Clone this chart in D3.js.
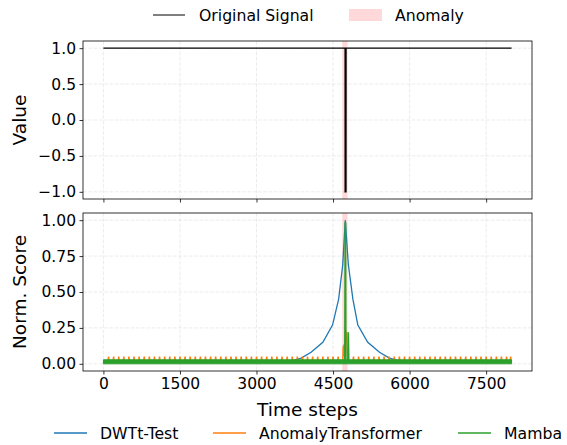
<!DOCTYPE html>
<html><head><meta charset="utf-8">
<script src="https://cdn.jsdelivr.net/npm/d3@7"></script>
<style>
body{margin:0;background:#fff;}
text{font-family:"DejaVu Sans",sans-serif;fill:#000;}
</style></head>
<body><svg id="c" width="567" height="445"></svg>
<script>
// ---- data ----
const xTicks = [0, 1500, 3000, 4500, 6000, 7500];
const yTopTicks = [-1.0, -0.5, 0.0, 0.5, 1.0];
const yBotTicks = [0.0, 0.25, 0.5, 0.75, 1.0];
const anomalySpan = [4680, 4785];
// original signal (breakpoints)
const signalT = [0, 4735, 4736, 4755, 4756, 7999];
const signalV = [1, 1, -1, -1, 1, 1];
// DWTt-Test score
const dwtT = [0, 3500, 3700, 3875, 4070, 4300, 4490, 4610, 4690, 4740, 4800, 4889, 4986, 5180, 5410, 5605, 5800, 6000, 7999];
const dwtV = [0.01, 0.01, 0.02, 0.04, 0.08, 0.15, 0.27, 0.45, 0.69, 1.0, 0.69, 0.45, 0.27, 0.15, 0.08, 0.04, 0.02, 0.01, 0.01];
// AnomalyTransformer: periodic small spikes + anomaly response
const atSpikeT = [100,200,300,400,500,600,700,800,900,1000,1100,1200,1300,1400,1500,1600,1700,1800,1900,2000,2100,2200,2300,2400,2500,2600,2700,2800,2900,3000,3100,3200,3300,3400,3500,3600,3700,3800,3900,4000,4100,4200,4300,4400,4500,4600,4700,4800,4900,5000,5100,5200,5300,5400,5500,5600,5700,5800,5900,6000,6100,6200,6300,6400,6500,6600,6700,6800,6900,7000,7100,7200,7300,7400,7500,7600,7700,7800,7900,7980];
const atSpikeV = 0.05;
const atBase = 0.012;
const atAnomT = [4690, 4700, 4715, 4725, 4740, 4750, 4760, 4770, 4780, 4800];
const atAnomV = [0.012, 0.12, 0.13, 0.05, 0.15, 0.23, 0.15, 0.22, 0.08, 0.012];
// Mamba: fast oscillation envelope + anomaly spike
const mambaBandT = [0, 7999];
const mambaBandLo = [0.0, 0.0];
const mambaBandHi = [0.028, 0.028];
const mambaT = [4700, 4730, 4738, 4745, 4752, 4790, 4800, 4810, 4830];
const mambaV = [0.012, 0.012, 0.98, 0.98, 0.012, 0.012, 0.22, 0.012, 0.012];

const colors = {dwt:"#1f77b4", at:"#ff7f0e", mamba:"#2ca02c"};

// ---- layout ----
const svg = d3.select("#c");
const L = 83, R = 532;
const x = d3.scaleLinear().domain([-400, 8399]).range([L, R]);
const yTop = d3.scaleLinear().domain([-1.1, 1.1]).range([199, 41]);
const yBot = d3.scaleLinear().domain([-0.05, 1.05]).range([371, 213]);
const TICK_FS = 15.5, LAB_FS = 18.5, LEG_FS = 15.7;

function panel(y, yTicks, clipId) {
  const [y0, y1] = y.range();
  const g = svg.append("g");
  svg.append("clipPath").attr("id", clipId).append("rect")
    .attr("x", L).attr("y", y1).attr("width", R - L).attr("height", y0 - y1);
  g.selectAll(".gx").data(xTicks).enter().append("line")
    .attr("x1", d => x(d)).attr("x2", d => x(d)).attr("y1", y1).attr("y2", y0)
    .attr("stroke", "#b0b0b0").attr("stroke-opacity", 0.3).attr("stroke-dasharray", "3.7,1.6").attr("stroke-width", 0.8);
  g.selectAll(".gy").data(yTicks).enter().append("line")
    .attr("x1", L).attr("x2", R).attr("y1", d => y(d)).attr("y2", d => y(d))
    .attr("stroke", "#b0b0b0").attr("stroke-opacity", 0.3).attr("stroke-dasharray", "3.7,1.6").attr("stroke-width", 0.8);
  g.append("rect").attr("x", x(anomalySpan[0])).attr("width", x(anomalySpan[1]) - x(anomalySpan[0]))
    .attr("y", y1).attr("height", y0 - y1).attr("fill", "red").attr("fill-opacity", 0.15);
  return g;
}
function axes(y, yTicks, fmt, showX) {
  const [y0, y1] = y.range();
  const ax = d3.axisBottom(x).tickValues(xTicks).tickSizeOuter(0).tickSize(3.5).tickPadding(3.5)
    .tickFormat(showX ? d3.format("d") : "");
  const gx = svg.append("g").attr("transform", `translate(0,${y0})`).call(ax);
  const ay = d3.axisLeft(y).tickValues(yTicks).tickSizeOuter(0).tickSize(3.5).tickPadding(3.5)
    .tickFormat(d => fmt(d).replace("-", "\u2212"));
  const gy = svg.append("g").attr("transform", `translate(${L},0)`).call(ay);
  [gx, gy].forEach(g => {
    g.select(".domain").remove();
    g.selectAll("line").attr("stroke", "#000").attr("stroke-width", 0.8);
    g.selectAll("text").attr("font-size", TICK_FS).attr("font-family", "DejaVu Sans").attr("fill", "#000");
  });
  svg.append("rect").attr("x", L).attr("y", y1).attr("width", R - L).attr("height", y0 - y1)
    .attr("fill", "none").attr("stroke", "#000").attr("stroke-width", 0.8);
}

// top panel
const gTop = panel(yTop, yTopTicks, "clipTop");
const sig = signalT.map((t, i) => [t, signalV[i]]);
gTop.append("path").datum(sig).attr("clip-path", "url(#clipTop)")
  .attr("d", d3.line().x(d => x(d[0])).y(d => yTop(d[1])))
  .attr("fill", "none").attr("stroke", "#000").attr("stroke-width", 1.2);
axes(yTop, yTopTicks, d3.format(".1f"), false);

// bottom panel
const gBot = panel(yBot, yBotTicks, "clipBot");
const line = d3.line().x(d => x(d[0])).y(d => yBot(d[1]));
const dwt = dwtT.map((t, i) => [t, dwtV[i]]);
gBot.append("path").datum(dwt).attr("d", line).attr("fill", "none")
  .attr("stroke", colors.dwt).attr("stroke-width", 1.3);
let at = [[0, atBase]];
atSpikeT.forEach(t => { at.push([t - 12, atBase], [t, atSpikeV], [t + 12, atBase]); });
at = at.filter(d => d[0] < atAnomT[0] || d[0] > atAnomT[atAnomT.length - 1]);
atAnomT.forEach((t, i) => at.push([t, atAnomV[i]]));
at.push([7999, atBase]);
at.sort((a, b) => a[0] - b[0]);
gBot.append("path").datum(at).attr("d", line).attr("fill", "none")
  .attr("stroke", colors.at).attr("stroke-width", 1.5);
const band = mambaBandT.map((t, i) => [t, mambaBandLo[i], mambaBandHi[i]]);
gBot.append("path").datum(band)
  .attr("d", d3.area().x(d => x(d[0])).y0(d => yBot(d[1])).y1(d => yBot(d[2])))
  .attr("fill", colors.mamba).attr("stroke", colors.mamba).attr("stroke-width", 1);
const mam = mambaT.map((t, i) => [t, mambaV[i]]);
gBot.append("path").datum(mam).attr("d", line).attr("fill", "none")
  .attr("stroke", colors.mamba).attr("stroke-width", 1.5);
axes(yBot, yBotTicks, d3.format(".2f"), true);

// axis labels
svg.append("text").attr("transform", `translate(26,${(41 + 199) / 2}) rotate(-90)`)
  .attr("text-anchor", "middle").attr("font-size", LAB_FS).text("Value");
svg.append("text").attr("transform", `translate(26,${(213 + 371) / 2}) rotate(-90)`)
  .attr("text-anchor", "middle").attr("font-size", LAB_FS).text("Norm. Score");
svg.append("text").attr("x", (L + R) / 2).attr("y", 415.5)
  .attr("text-anchor", "middle").attr("font-size", LAB_FS).text("Time steps");

// top legend
const lt = svg.append("g");
lt.append("line").attr("x1", 153).attr("x2", 185).attr("y1", 15).attr("y2", 15)
  .attr("stroke", "#000").attr("stroke-width", 1);
lt.append("text").attr("x", 199).attr("y", 20.5).attr("font-size", LEG_FS).text("Original Signal");
lt.append("rect").attr("x", 349).attr("y", 9).attr("width", 33).attr("height", 12)
  .attr("fill", "red").attr("fill-opacity", 0.15);
lt.append("text").attr("x", 395).attr("y", 20.5).attr("font-size", LEG_FS).text("Anomaly");

// bottom legend
const legItems = [
  {label: "DWTt-Test", c: colors.dwt, x: 54},
  {label: "AnomalyTransformer", c: colors.at, x: 213},
  {label: "Mamba", c: colors.mamba, x: 458}
];
const lb = svg.append("g");
legItems.forEach(it => {
  lb.append("line").attr("x1", it.x).attr("x2", it.x + 33).attr("y1", 433).attr("y2", 433)
    .attr("stroke", it.c).attr("stroke-width", 1.5);
  lb.append("text").attr("x", it.x + 46).attr("y", 438.5).attr("font-size", LEG_FS).text(it.label);
});
</script></body></html>
